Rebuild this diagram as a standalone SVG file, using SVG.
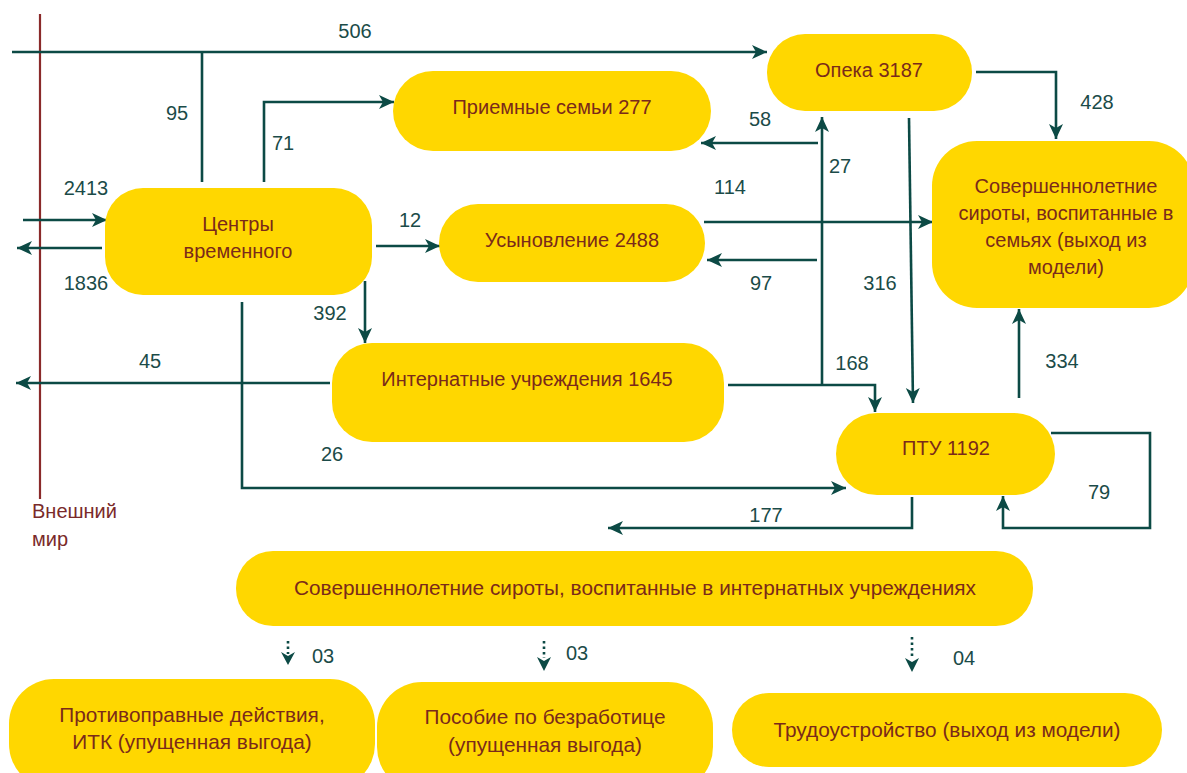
<svg xmlns="http://www.w3.org/2000/svg" width="1187" height="773" viewBox="0 0 1187 773">
<defs>
<style>
.n{fill:#FFD700;}
.t{font-family:"Liberation Sans",Arial,sans-serif;font-size:20px;fill:#7A2A1A;text-anchor:middle;}
.b{font-size:20.8px;}
.l{font-family:"Liberation Sans",Arial,sans-serif;font-size:20px;fill:#1B4B48;text-anchor:middle;}
.c{fill:none;stroke:#0C4A45;stroke-width:2.6;}
.d{fill:none;stroke:#0C4A45;stroke-width:2.6;stroke-dasharray:2.5,3;}
.ah{fill:#0C4A45;}
</style>
<marker id="a" markerUnits="userSpaceOnUse" markerWidth="18" markerHeight="16" refX="15" refY="7" orient="auto">
<path d="M0,0 L15,7 L0,14 L4,7 Z" fill="#0C4A45"/>
</marker>
</defs>
<rect width="1187" height="773" fill="#FFFFFF"/>

<g id="outer-world">
<line x1="40" y1="14" x2="40" y2="499" stroke="#8A2A2A" stroke-width="2.2"/>
<text x="32" y="518" font-family="Liberation Sans, Arial, sans-serif" font-size="20" fill="#7A2A2A">Внешний</text>
<text x="32" y="546" font-family="Liberation Sans, Arial, sans-serif" font-size="20" fill="#7A2A2A">мир</text>
</g>

<g id="connectors">
<path class="c" d="M12,52 H767" marker-end="url(#a)"/>
<path class="c" d="M202,52 V182"/>
<path class="c" d="M264,182 V102 H394" marker-end="url(#a)"/>
<path class="c" d="M23,220 H107" marker-end="url(#a)"/>
<path class="c" d="M102,248 H17" marker-end="url(#a)"/>
<path class="c" d="M376,246 H440" marker-end="url(#a)"/>
<path class="c" d="M365,281 V343" marker-end="url(#a)"/>
<path class="c" d="M242,302 V488 H846" marker-end="url(#a)"/>
<path class="c" d="M330,383 H16" marker-end="url(#a)"/>
<path class="c" d="M818,143 H701" marker-end="url(#a)"/>
<path class="c" d="M822,384 V117" marker-end="url(#a)"/>
<path class="c" d="M704,222 H933" marker-end="url(#a)"/>
<path class="c" d="M817,260 H707" marker-end="url(#a)"/>
<path class="c" d="M909,118 L913,403" marker-end="url(#a)"/>
<path class="c" d="M976,72 H1056 V139" marker-end="url(#a)"/>
<path class="c" d="M728,385 H875 V412" marker-end="url(#a)"/>
<path class="c" d="M1019,398 V309" marker-end="url(#a)"/>
<path class="c" d="M1051,433 H1150 V528 H1003 V496" marker-end="url(#a)"/>
<path class="c" d="M912,497 V528 H608" marker-end="url(#a)"/>
<path class="d" d="M288,641 V654"/>
<path class="ah" d="M281,652 L288,665 L295,652 L288,656 Z"/>
<path class="d" d="M544,641 V658"/>
<path class="ah" d="M537,657 L544,671 L551,657 L544,661 Z"/>
<path class="d" d="M912,637 V658"/>
<path class="ah" d="M905,658 L912,672 L919,658 L912,662 Z"/>
<text class="l" x="355" y="38">506</text>
<text class="l" x="177" y="120">95</text>
<text class="l" x="283" y="150">71</text>
<text class="l" x="86" y="195">2413</text>
<text class="l" x="86" y="290">1836</text>
<text class="l" x="410" y="227">12</text>
<text class="l" x="330" y="320">392</text>
<text class="l" x="150" y="368">45</text>
<text class="l" x="332" y="461">26</text>
<text class="l" x="760" y="126">58</text>
<text class="l" x="840" y="173">27</text>
<text class="l" x="730" y="194">114</text>
<text class="l" x="761" y="290">97</text>
<text class="l" x="880" y="290">316</text>
<text class="l" x="1097" y="109">428</text>
<text class="l" x="852" y="370">168</text>
<text class="l" x="1062" y="368">334</text>
<text class="l" x="1099" y="499">79</text>
<text class="l" x="766" y="522">177</text>
<text class="l" x="323" y="663">03</text>
<text class="l" x="577" y="660">03</text>
<text class="l" x="964" y="665">04</text>
</g>

<g id="centers">
<rect class="n" x="105" y="188" width="267" height="107" rx="38"/>
<text class="t" x="238" y="231">Центры</text>
<text class="t" x="238" y="258">временного</text>
</g>
<g id="foster">
<rect class="n" x="393" y="71" width="318" height="80" rx="40"/>
<text class="t" x="552" y="114">Приемные семьи 277</text>
</g>
<g id="adoption">
<rect class="n" x="439" y="204" width="266" height="78" rx="39"/>
<text class="t" x="572" y="247">Усыновление 2488</text>
</g>
<g id="guardianship">
<rect class="n" x="767" y="34" width="205" height="77" rx="38"/>
<text class="t" x="869" y="77">Опека 3187</text>
</g>
<g id="adult-family">
<rect class="n" x="932" y="141" width="262" height="167" rx="45"/>
<text class="t" x="1066" y="193">Совершеннолетние</text>
<text class="t" x="1066" y="220">сироты, воспитанные в</text>
<text class="t" x="1066" y="247">семьях (выход из</text>
<text class="t" x="1066" y="274">модели)</text>
</g>
<g id="boarding">
<rect class="n" x="332" y="343" width="392" height="99" rx="40"/>
<text class="t" x="527" y="386">Интернатные учреждения 1645</text>
</g>
<g id="vocational">
<rect class="n" x="836" y="413" width="219" height="82" rx="41"/>
<text class="t" x="946" y="455">ПТУ 1192</text>
</g>
<g id="adult-boarding">
<rect class="n" x="236" y="551" width="797" height="75" rx="37"/>
<text class="t b" x="635" y="595">Совершеннолетние сироты, воспитанные в интернатных учреждениях</text>
</g>
<g id="crime">
<rect class="n" x="9" y="679" width="366" height="110" rx="45"/>
<text class="t b" x="192" y="722">Противоправные действия,</text>
<text class="t b" x="192" y="749">ИТК (упущенная выгода)</text>
</g>
<g id="benefit">
<rect class="n" x="377" y="682" width="336" height="110" rx="45"/>
<text class="t b" x="545" y="724">Пособие по безработице</text>
<text class="t b" x="545" y="752">(упущенная выгода)</text>
</g>
<g id="employment">
<rect class="n" x="732" y="693" width="430" height="74" rx="37"/>
<text class="t b" x="947" y="737">Трудоустройство (выход из модели)</text>
</g>
</svg>
